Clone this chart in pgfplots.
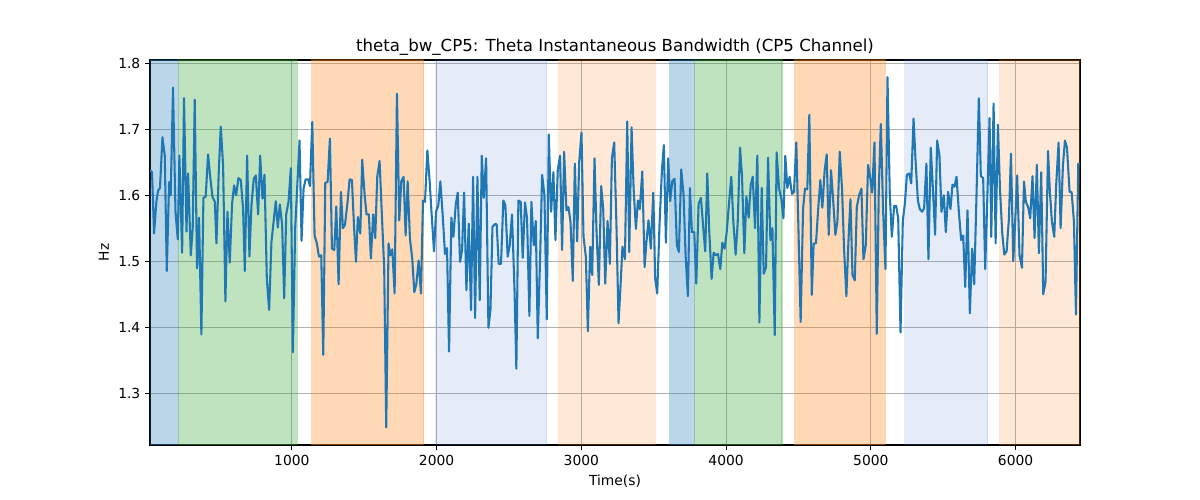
\documentclass[border=0pt]{standalone}
\usepackage{fontspec}
\setmainfont{DejaVu Sans}
\usepackage{pgfplots}
\pgfplotsset{compat=1.18}
\usepackage{pgfplotstable}
\definecolor{tabblue}{RGB}{31,119,180}
\definecolor{tabgreen}{RGB}{44,160,44}
\definecolor{taborange}{RGB}{255,127,14}
\definecolor{lavblue}{RGB}{70,110,200}
\definecolor{gridgray}{RGB}{176,176,176}

\pgfplotstableread{
t hz
20 1.638
34 1.635
48 1.542
64 1.590
76 1.607
89 1.611
106 1.688
122 1.660
136 1.485
152 1.620
163 1.600
179 1.763
196 1.575
212 1.533
223 1.660
242 1.513
255 1.747
272 1.545
283 1.633
302 1.509
315 1.550
329 1.745
345 1.489
359 1.566
375 1.389
389 1.596
405 1.598
421 1.662
435 1.630
451 1.598
468 1.590
479 1.527
495 1.635
509 1.704
525 1.645
541 1.439
555 1.575
571 1.498
587 1.587
601 1.615
615 1.600
631 1.626
647 1.623
663 1.580
675 1.485
691 1.660
707 1.507
721 1.585
737 1.625
751 1.630
767 1.571
781 1.660
797 1.595
811 1.631
827 1.474
843 1.426
859 1.529
889 1.591
903 1.551
917 1.586
933 1.555
947 1.444
961 1.571
977 1.590
993 1.641
1007 1.362
1023 1.550
1053 1.683
1067 1.531
1081 1.610
1095 1.624
1113 1.624
1125 1.614
1141 1.711
1157 1.539
1173 1.527
1187 1.507
1203 1.509
1217 1.358
1231 1.619
1247 1.620
1263 1.686
1277 1.519
1293 1.517
1307 1.583
1323 1.465
1339 1.605
1353 1.550
1367 1.555
1385 1.590
1399 1.624
1415 1.623
1429 1.555
1443 1.499
1456 1.567
1473 1.542
1486 1.654
1503 1.600
1516 1.571
1532 1.571
1546 1.504
1562 1.571
1576 1.535
1590 1.628
1606 1.652
1622 1.570
1638 1.489
1652 1.248
1668 1.527
1680 1.509
1694 1.518
1710 1.451
1726 1.754
1742 1.562
1756 1.621
1772 1.628
1786 1.539
1800 1.621
1816 1.534
1832 1.503
1846 1.453
1860 1.465
1876 1.501
1892 1.451
1906 1.592
1920 1.590
1936 1.668
1952 1.621
1966 1.570
1982 1.515
1996 1.575
2012 1.585
2026 1.621
2042 1.570
2058 1.511
2072 1.520
2086 1.363
2102 1.566
2116 1.537
2132 1.585
2146 1.604
2162 1.499
2176 1.517
2190 1.604
2206 1.456
2222 1.557
2238 1.426
2252 1.628
2266 1.414
2282 1.628
2298 1.441
2312 1.660
2326 1.596
2342 1.656
2358 1.399
2372 1.426
2386 1.552
2402 1.556
2415 1.556
2429 1.496
2445 1.496
2461 1.592
2475 1.585
2491 1.507
2505 1.524
2521 1.571
2538 1.459
2551 1.337
2565 1.592
2581 1.590
2595 1.505
2611 1.589
2625 1.565
2641 1.417
2655 1.590
2671 1.524
2685 1.561
2699 1.383
2715 1.504
2729 1.631
2745 1.600
2761 1.412
2775 1.692
2791 1.575
2807 1.635
2821 1.532
2837 1.638
2853 1.660
2867 1.517
2881 1.666
2897 1.577
2911 1.582
2925 1.560
2941 1.470
2955 1.648
2971 1.530
2985 1.650
3001 1.695
3015 1.537
3031 1.507
3045 1.394
3061 1.522
3075 1.479
3091 1.656
3105 1.544
3121 1.464
3137 1.614
3151 1.580
3165 1.466
3181 1.561
3197 1.496
3211 1.656
3227 1.680
3243 1.550
3257 1.406
3271 1.464
3284 1.522
3301 1.503
3317 1.712
3331 1.514
3347 1.703
3361 1.610
3377 1.549
3391 1.592
3404 1.579
3421 1.636
3437 1.491
3450 1.530
3464 1.562
3480 1.519
3497 1.604
3510 1.474
3524 1.451
3540 1.555
3557 1.639
3570 1.676
3584 1.528
3600 1.656
3614 1.591
3628 1.621
3644 1.625
3660 1.524
3674 1.514
3690 1.639
3706 1.601
3720 1.510
3736 1.447
3750 1.611
3764 1.544
3780 1.544
3794 1.466
3810 1.587
3826 1.596
3840 1.557
3856 1.515
3870 1.633
3884 1.544
3900 1.473
3914 1.513
3928 1.509
3944 1.511
3960 1.488
3974 1.528
3990 1.519
4004 1.544
4020 1.587
4036 1.628
4050 1.560
4066 1.510
4080 1.557
4096 1.672
4110 1.629
4126 1.512
4140 1.598
4156 1.566
4170 1.615
4184 1.628
4200 1.550
4216 1.660
4230 1.407
4246 1.611
4260 1.481
4276 1.491
4290 1.657
4306 1.532
4320 1.550
4336 1.388
4349 1.665
4366 1.610
4382 1.594
4396 1.565
4409 1.660
4423 1.611
4439 1.628
4455 1.602
4469 1.605
4485 1.680
4502 1.529
4515 1.408
4532 1.580
4545 1.610
4561 1.609
4575 1.722
4592 1.449
4605 1.527
4621 1.527
4635 1.575
4651 1.623
4665 1.581
4681 1.638
4695 1.662
4709 1.540
4725 1.638
4739 1.595
4755 1.540
4769 1.560
4785 1.666
4801 1.610
4815 1.519
4831 1.447
4845 1.529
4859 1.594
4873 1.479
4889 1.471
4903 1.582
4919 1.600
4935 1.610
4949 1.503
4965 1.524
4981 1.646
4995 1.628
5009 1.604
5025 1.680
5041 1.390
5055 1.610
5069 1.708
5085 1.575
5101 1.488
5115 1.779
5131 1.600
5145 1.537
5161 1.584
5175 1.584
5189 1.565
5205 1.392
5221 1.562
5235 1.587
5249 1.631
5265 1.633
5279 1.618
5295 1.716
5308 1.656
5325 1.592
5338 1.579
5354 1.575
5368 1.580
5384 1.648
5398 1.503
5414 1.672
5431 1.600
5444 1.540
5458 1.683
5474 1.660
5488 1.575
5504 1.600
5518 1.544
5534 1.605
5550 1.579
5564 1.616
5578 1.613
5592 1.628
5608 1.575
5624 1.532
5638 1.539
5652 1.461
5668 1.577
5684 1.421
5700 1.519
5714 1.465
5730 1.600
5746 1.747
5760 1.629
5776 1.626
5790 1.488
5806 1.605
5820 1.717
5832 1.537
5848 1.739
5862 1.527
5878 1.707
5892 1.610
5908 1.542
5922 1.510
5938 1.515
5954 1.565
5968 1.663
5984 1.500
5998 1.565
6011 1.630
6027 1.509
6044 1.490
6058 1.621
6071 1.590
6087 1.582
6101 1.565
6117 1.629
6131 1.535
6147 1.646
6161 1.512
6177 1.635
6191 1.450
6207 1.469
6224 1.667
6237 1.605
6251 1.560
6267 1.537
6281 1.618
6297 1.680
6311 1.550
6327 1.645
6341 1.683
6355 1.672
6373 1.605
6387 1.605
6403 1.560
6417 1.419
6433 1.648
6445 1.648
}\datatable

\begin{document}
\begin{tikzpicture}
\begin{axis}[
  at={(1.5in,0.55in)}, anchor=south west,
  width=9.3in, height=3.85in, scale only axis,
  xmin=20, xmax=6445, ymin=1.2214, ymax=1.8050,
  xtick={1000,2000,3000,4000,5000,6000},
  ytick={1.3,1.4,1.5,1.6,1.7,1.8},
  xtick pos=lower, ytick pos=left,
  tick align=outside,
  major tick length=3.5pt,
  tick style={black, line width=0.8pt},
  axis line style={black, line width=0.8pt},
  grid=major,
  grid style={gridgray, line width=0.8pt},
  x tick label style={/pgf/number format/1000 sep={}},
  y tick label style={/pgf/number format/.cd, fixed, fixed zerofill, precision=1},
  /pgf/number format/assume math mode=true,
  tick label style={font=\fontsize{10}{12}\selectfont},
  label style={font=\fontsize{10}{12}\selectfont},
  xlabel={Time(s)},
  ylabel={Hz},
  title={theta\_bw\_CP5: Theta Instantaneous Bandwidth (CP5 Channel)},
  title style={font=\fontsize{12}{14}\selectfont, yshift=-6.3pt},
]
\addplot[fill=tabblue, fill opacity=0.3, draw=tabblue, draw opacity=0.3, line width=0.8pt]
  coordinates {(20,1.2214) (214,1.2214) (214,1.8050) (20,1.8050)};
\addplot[fill=tabgreen, fill opacity=0.3, draw=tabgreen, draw opacity=0.3, line width=0.8pt]
  coordinates {(214,1.2214) (1037,1.2214) (1037,1.8050) (214,1.8050)};
\addplot[fill=taborange, fill opacity=0.3, draw=taborange, draw opacity=0.3, line width=0.8pt]
  coordinates {(1132,1.2214) (1911,1.2214) (1911,1.8050) (1132,1.8050)};
\addplot[fill=lavblue, fill opacity=0.14, draw=lavblue, draw opacity=0.14, line width=0.8pt]
  coordinates {(1989,1.2214) (2761,1.2214) (2761,1.8050) (1989,1.8050)};
\addplot[fill=taborange, fill opacity=0.17, draw=taborange, draw opacity=0.17, line width=0.8pt]
  coordinates {(2840,1.2214) (3510,1.2214) (3510,1.8050) (2840,1.8050)};
\addplot[fill=tabblue, fill opacity=0.3, draw=tabblue, draw opacity=0.3, line width=0.8pt]
  coordinates {(3607,1.2214) (3780,1.2214) (3780,1.8050) (3607,1.8050)};
\addplot[fill=tabgreen, fill opacity=0.3, draw=tabgreen, draw opacity=0.3, line width=0.8pt]
  coordinates {(3780,1.2214) (4386,1.2214) (4386,1.8050) (3780,1.8050)};
\addplot[fill=taborange, fill opacity=0.3, draw=taborange, draw opacity=0.3, line width=0.8pt]
  coordinates {(4467,1.2214) (5101,1.2214) (5101,1.8050) (4467,1.8050)};
\addplot[fill=lavblue, fill opacity=0.14, draw=lavblue, draw opacity=0.14, line width=0.8pt]
  coordinates {(5226,1.2214) (5808,1.2214) (5808,1.8050) (5226,1.8050)};
\addplot[fill=taborange, fill opacity=0.17, draw=taborange, draw opacity=0.17, line width=0.8pt]
  coordinates {(5882,1.2214) (6445,1.2214) (6445,1.8050) (5882,1.8050)};
\addplot[tabblue, line width=1.5pt, line join=round] table[x=t, y=hz] {\datatable};
\end{axis}
\path (0,0) rectangle (12in,5in);
\end{tikzpicture}
\end{document}
